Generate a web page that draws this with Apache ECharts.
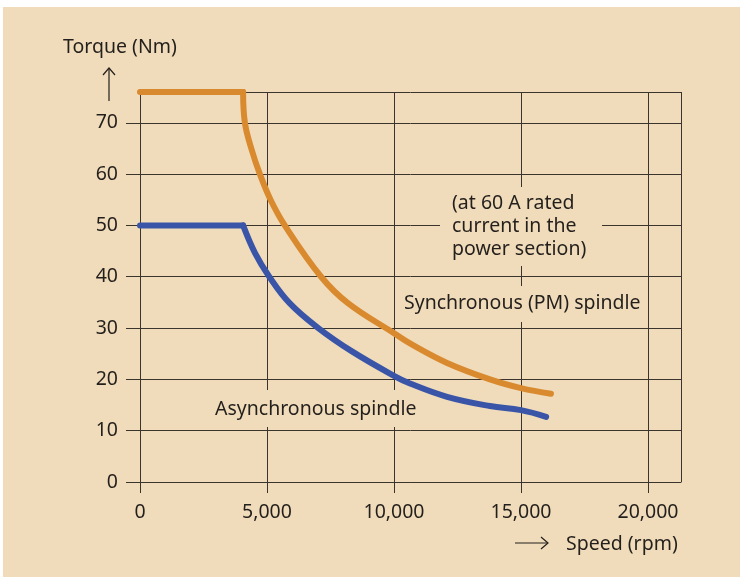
<!DOCTYPE html>
<html>
<head>
<meta charset="utf-8">
<script src="https://cdn.jsdelivr.net/npm/echarts@6/dist/echarts.min.js"></script>
<style>
html,body{margin:0;padding:0;background:#ffffff;}
#chart{width:740px;height:577px;}
</style>
</head>
<body>
<div id="chart"></div>
<script>
// ---- data ----
const xTicks = [0, 5000, 10000, 15000, 20000];
const yTicks = [0, 10, 20, 30, 40, 50, 60, 70];

const syncFlatSpeed = [0, 4060];
const syncFlatTorque = [76, 76];
const syncCurveSpeed = [4060, 4130, 4400, 4720, 5140, 5700, 7130, 8200, 10000, 10630, 12090, 13780, 15000, 16180];
const syncCurveTorque = [76, 70, 64.7, 60, 55, 50, 40, 34.8, 29.0, 27.0, 23.2, 20, 18.3, 17.2];

const asyncFlatSpeed = [0, 4060];
const asyncFlatTorque = [50, 50];
const asyncCurveSpeed = [4060, 4530, 5090, 5900, 7020, 8330, 10000, 10630, 12090, 13780, 15000, 15990];
const asyncCurveTorque = [50, 44.6, 40, 34.8, 30, 25.5, 20.7, 19.2, 16.6, 14.8, 14.0, 12.7];

const labelSync = 'Synchronous (PM) spindle';
const labelAsync = 'Asynchronous spindle';
const noteText = '(at 60 A rated\ncurrent in the\npower section)';
const yTitle = 'Torque (Nm)';
const xTitle = 'Speed (rpm)';

// ---- styles ----
const BG = '#f0dcba';
const ORANGE = '#d98a2f';
const BLUE = '#3a55a8';
const GRID = '#3b342c';
const TXT = '#231f1c';
const FONT = 'Noto Sans';
const FS = 19.5;

function pairs(xs, ys){ return xs.map((x,i)=>[x, ys[i]]); }

const chart = echarts.init(document.getElementById('chart'), null, {renderer:'canvas'});

function lineSeries(name, data, color, smooth){
  return {
    name: name,
    type: 'line',
    data: data,
    smooth: smooth ? 0.4 : false,
    showSymbol: false,
    symbol: 'none',
    lineStyle: {color: color, width: 6, cap: 'round', join: 'miter'},
    itemStyle: {color: color},
    z: 3,
    silent: true,
    animation: false
  };
}

const option = {
  backgroundColor: BG,
  animation: false,
  textStyle: {fontFamily: FONT},
  grid: {left: 140, right: 59, top: 92, bottom: 95, containLabel: false},
  xAxis: {
    type: 'value',
    min: 0, max: 21300, interval: 5000,
    axisLine: {show: true, lineStyle: {color: GRID, width: 1}},
    axisTick: {show: true, length: 11, lineStyle: {color: GRID, width: 1}},
    splitLine: {show: true, lineStyle: {color: GRID, width: 1}},
    axisLabel: {
      color: TXT, fontSize: FS, fontFamily: FONT, margin: 20,
      showMaxLabel: false,
      formatter: function(v){ return xTicks.indexOf(v) >= 0 ? v.toLocaleString('en-US') : ''; }
    }
  },
  yAxis: {
    type: 'value',
    min: 0, max: 76, interval: 10,
    axisLine: {show: true, lineStyle: {color: GRID, width: 1}},
    axisTick: {show: true, length: 14, lineStyle: {color: GRID, width: 1}},
    splitLine: {show: true, lineStyle: {color: GRID, width: 1}},
    axisLabel: {
      color: TXT, fontSize: FS, fontFamily: FONT, margin: 22,
      showMaxLabel: false,
      formatter: function(v){ return yTicks.indexOf(v) >= 0 ? String(v) : ''; }
    }
  },
  series: [
    lineSeries('Synchronous (PM) spindle', pairs(syncFlatSpeed, syncFlatTorque), ORANGE, false),
    lineSeries('Synchronous (PM) spindle curve', pairs(syncCurveSpeed, syncCurveTorque), ORANGE, true),
    lineSeries('Asynchronous spindle', pairs(asyncFlatSpeed, asyncFlatTorque), BLUE, false),
    lineSeries('Asynchronous spindle curve', pairs(asyncCurveSpeed, asyncCurveTorque), BLUE, true)
  ],
  graphic: [
    {type:'rect', silent:true, z:50, shape:{x:0,y:0,width:740,height:7}, style:{fill:'#ffffff'}},
    {type:'rect', silent:true, z:50, shape:{x:0,y:0,width:3,height:577}, style:{fill:'#ffffff'}},
    // axis titles
    {type:'text', silent:true, z:10, x:63, y:47, style:{text:yTitle, fill:TXT, font: FS+'px "'+FONT+'"', textAlign:'left', textVerticalAlign:'middle'}},
    {type:'line', silent:true, z:10, shape:{x1:109,y1:101,x2:109,y2:68}, style:{stroke:TXT, lineWidth:1.2}},
    {type:'polyline', silent:true, z:10, shape:{points:[[103,75],[109,68],[115,75]]}, style:{stroke:TXT, lineWidth:1.2, fill:null}},
    {type:'line', silent:true, z:10, shape:{x1:515,y1:543,x2:548,y2:543}, style:{stroke:TXT, lineWidth:1.2}},
    {type:'polyline', silent:true, z:10, shape:{points:[[541,537],[548,543],[541,549]]}, style:{stroke:TXT, lineWidth:1.2, fill:null}},
    {type:'text', silent:true, z:10, x:566, y:544, style:{text:xTitle, fill:TXT, font: FS+'px "'+FONT+'"', textAlign:'left', textVerticalAlign:'middle'}},
    // annotation backgrounds covering grid lines
    {type:'rect', silent:true, z:1, shape:{x:440,y:187,width:162,height:79}, style:{fill:BG}},
    {type:'rect', silent:true, z:1, shape:{x:398,y:286,width:244,height:36}, style:{fill:BG}},
    {type:'rect', silent:true, z:1, shape:{x:210,y:390,width:210,height:37}, style:{fill:BG}},
    {type:'text', silent:true, z:10, x:452, y:191.5, style:{text:noteText, fill:TXT, font: FS+'px "'+FONT+'"', lineHeight:23, textAlign:'left', textVerticalAlign:'top'}},
    {type:'text', silent:true, z:10, x:404, y:303, style:{text:labelSync, fill:TXT, font: FS+'px "'+FONT+'"', textAlign:'left', textVerticalAlign:'middle'}},
    {type:'text', silent:true, z:10, x:215, y:409, style:{text:labelAsync, fill:TXT, font: FS+'px "'+FONT+'"', textAlign:'left', textVerticalAlign:'middle'}}
  ]
};
chart.setOption(option);
</script>
</body>
</html>
